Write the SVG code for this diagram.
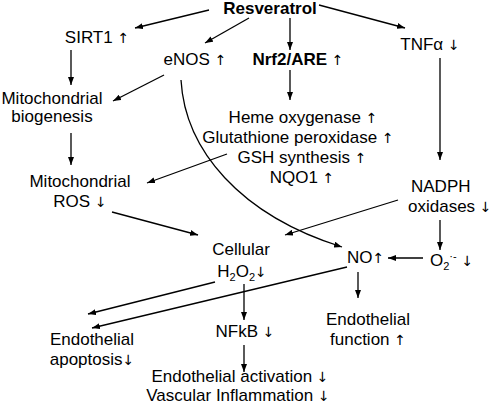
<svg xmlns="http://www.w3.org/2000/svg" width="494" height="410" viewBox="0 0 494 410">
<style>
text{font-family:"Liberation Sans","DejaVu Sans",Arial,sans-serif;font-size:17px;fill:#000}
.b{font-weight:bold}
.m{text-anchor:middle}
.c{fill:none;stroke:#000;stroke-width:1.3}
.s{font-size:11px}
.a{font-family:"DejaVu Sans",sans-serif;font-size:14px;font-weight:normal}
</style>
<defs>
<marker id="ah" markerWidth="8" markerHeight="6" refX="8" refY="3" orient="auto" markerUnits="userSpaceOnUse">
<path d="M0,0 L8,3 L0,6 Z" fill="#000"/>
</marker>
</defs>
<rect width="494" height="410" fill="#fff"/>
<g id="connectors" class="c" marker-end="url(#ah)">
<line x1="209" y1="10" x2="135" y2="28"/>
<line x1="249" y1="18" x2="205" y2="43"/>
<line x1="290" y1="18" x2="290" y2="50"/>
<line x1="319" y1="5" x2="405" y2="28"/>
<line x1="290" y1="70" x2="290" y2="100"/>
<line x1="71" y1="50" x2="71" y2="85"/>
<line x1="164" y1="75" x2="113" y2="101"/>
<line x1="71" y1="133" x2="71" y2="165"/>
<line x1="227" y1="154" x2="147" y2="183"/>
<line x1="112" y1="212" x2="198" y2="235"/>
<line x1="440" y1="58" x2="440" y2="160"/>
<line x1="398" y1="200" x2="285" y2="235"/>
<line x1="440" y1="220" x2="440" y2="250"/>
<line x1="423" y1="258" x2="388" y2="258"/>
<path d="M181,80 C185,150 240,215 342,247"/>
<line x1="244" y1="284" x2="244" y2="320"/>
<line x1="215" y1="282" x2="88" y2="314"/>
<line x1="347" y1="267" x2="92" y2="328"/>
<line x1="358" y1="272" x2="358" y2="298"/>
<line x1="244" y1="345" x2="244" y2="372"/>
</g>
<g id="resveratrol"><text class="b m" x="270" y="14">Resveratrol</text></g>
<g id="sirt1"><text class="m" x="97" y="43">SIRT1 <tspan class="a">↑</tspan></text></g>
<g id="enos"><text class="m" x="195" y="65">eNOS <tspan class="a">↑</tspan></text></g>
<g id="nrf2"><text class="m" x="298" y="65"><tspan class="b">Nrf2/ARE</tspan> <tspan class="a">↑</tspan></text></g>
<g id="tnfa"><text class="m" x="430" y="50">TNFα <tspan class="a">↓</tspan></text></g>
<g id="mito-biogenesis"><text class="m" x="52" y="104">Mitochondrial</text><text class="m" x="52" y="122">biogenesis</text></g>
<g id="antioxidants">
<text class="m" x="303" y="123">Heme oxygenase <tspan class="a">↑</tspan></text>
<text class="m" x="298" y="143">Glutathione peroxidase <tspan class="a">↑</tspan></text>
<text class="m" x="302" y="163">GSH synthesis <tspan class="a">↑</tspan></text>
<text class="m" x="302" y="183">NQO1 <tspan class="a">↑</tspan></text>
</g>
<g id="mito-ros"><text class="m" x="80" y="187">Mitochondrial</text><text class="m" x="80" y="207">ROS <tspan class="a">↓</tspan></text></g>
<g id="nadph"><text x="411" y="192">NADPH</text><text x="408" y="212">oxidases <tspan class="a">↓</tspan></text></g>
<g id="h2o2"><text class="m" x="241" y="255">Cellular</text><text class="m" x="242" y="277">H<tspan class="s" dy="4">2</tspan><tspan dy="-4">O</tspan><tspan class="s" dy="4">2</tspan><tspan class="a" dy="-4">↓</tspan></text></g>
<g id="no"><text x="347" y="263">NO<tspan class="a">↑</tspan></text></g>
<g id="superoxide"><text x="430" y="266">O<tspan class="s" dy="4">2</tspan><tspan class="s" dy="-10">·-</tspan><tspan dy="6"> </tspan><tspan class="a">↓</tspan></text></g>
<g id="nfkb"><text class="m" x="245" y="337">NFkB <tspan class="a">↓</tspan></text></g>
<g id="apoptosis"><text class="m" x="92" y="345">Endothelial</text><text class="m" x="92" y="365">apoptosis<tspan class="a">↓</tspan></text></g>
<g id="endo-function"><text class="m" x="368" y="325">Endothelial</text><text class="m" x="368" y="345">function <tspan class="a">↑</tspan></text></g>
<g id="inflammation"><text class="m" x="240" y="382">Endothelial activation <tspan class="a">↓</tspan></text><text class="m" x="238" y="401">Vascular Inflammation <tspan class="a">↓</tspan></text></g>
</svg>
